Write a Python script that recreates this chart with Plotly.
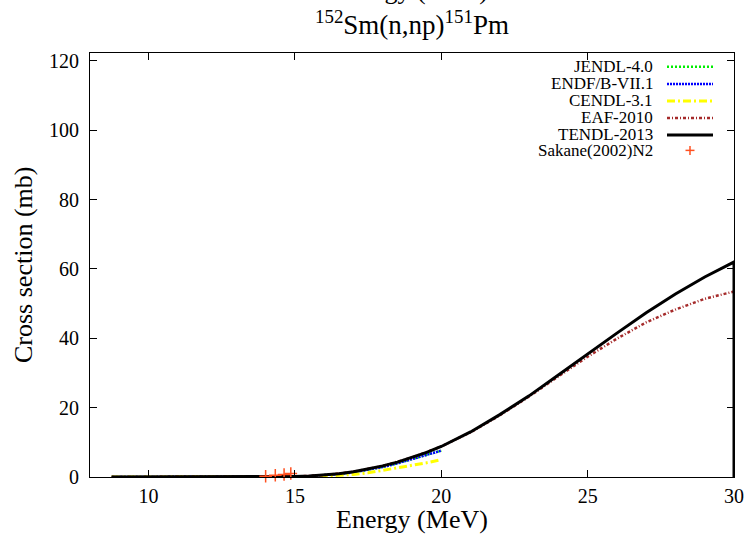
import plotly.graph_objects as go

# ---------------- data ----------------
tendl_e = [8.74, 10, 11, 12, 13, 14, 15, 15.5, 16, 16.5, 17, 17.5, 18, 18.5, 19, 19.5, 20,
           21, 22, 23, 24, 25, 26, 27, 28, 29, 30, 30]
tendl_v = [0, 0, 0, 0, 0.01, 0.04, 0.15, 0.3, 0.55, 0.95, 1.5, 2.25, 3.2, 4.3, 5.6, 7.1, 8.8,
           13.0, 18.0, 23.4, 29.4, 35.5, 41.5, 47.4, 52.8, 57.7, 62.0, 0]

eaf_e = [8.74, 10, 11, 12, 13, 14, 15, 16, 17, 18, 19, 20, 21, 22, 23, 24, 25, 26, 27, 28, 29, 30]
eaf_v = [0, 0, 0, 0, 0.01, 0.04, 0.15, 0.55, 1.5, 3.2, 5.6, 8.8, 12.9, 17.8, 23.2, 29.0,
         34.7, 39.9, 44.6, 48.3, 51.4, 53.5]

jendl_e = [8.74, 10, 11, 12, 13, 14, 15, 15.5, 16, 16.5, 17, 17.5, 18, 18.5, 19, 19.5, 20]
jendl_v = [0, 0, 0, 0, 0.01, 0.03, 0.12, 0.25, 0.48, 0.85, 1.35, 2.05, 2.9, 3.95, 5.1, 6.35, 7.6]

endf_e = [8.74, 10, 11, 12, 13, 14, 15, 15.5, 16, 16.5, 17, 17.5, 18, 18.5, 19, 19.5, 20]
endf_v = [0, 0, 0, 0, 0.01, 0.03, 0.12, 0.25, 0.48, 0.85, 1.35, 2.05, 2.9, 3.95, 5.1, 6.35, 7.6]

cendl_e = [8.74, 10, 11, 12, 13, 14, 15, 15.5, 16, 16.5, 17, 17.5, 18, 18.5, 19, 19.5, 20]
cendl_v = [0, 0, 0, 0, 0, 0.01, 0.05, 0.12, 0.25, 0.45, 0.75, 1.2, 1.9, 2.6, 3.3, 4.1, 5.0]

sakane_e = [14.0, 14.33, 14.63, 14.86]
sakane_v = [0.2, 0.5, 0.7, 1.0]

x_ticks = [10, 15, 20, 25, 30]
y_ticks = [0, 20, 40, 60, 80, 100, 120]

series_names = ["JENDL-4.0", "ENDF/B-VII.1", "CENDL-3.1", "EAF-2010", "TENDL-2013", "Sakane(2002)N2"]

# ---------------- styles ----------------
FONT = "Liberation Serif"
styles = {
    "JENDL-4.0": dict(color="#00ee00", width=2.5, dash="2px,2px"),
    "ENDF/B-VII.1": dict(color="#0000ff", width=2.5, dash="2px,1px"),
    "CENDL-3.1": dict(color="#ffff00", width=3, dash="8px,3px,2px,3px"),
    "EAF-2010": dict(color="#a52a2a", width=2.5, dash="3px,2px,1px,2px"),
    "TENDL-2013": dict(color="#000000", width=3, dash="solid"),
}
sak_color = "#ff5020"

fig = go.Figure()
data_map = {
    "JENDL-4.0": (jendl_e, jendl_v),
    "ENDF/B-VII.1": (endf_e, endf_v),
    "CENDL-3.1": (cendl_e, cendl_v),
    "EAF-2010": (eaf_e, eaf_v),
    "TENDL-2013": (tendl_e, tendl_v),
}
for name in series_names[:5]:
    ex, vy = data_map[name]
    fig.add_trace(go.Scatter(x=ex, y=vy, mode="lines", name=name, line=styles[name],
                             showlegend=False))

fig.add_trace(go.Scatter(x=sakane_e, y=sakane_v, mode="markers", name=series_names[5],
                         marker=dict(symbol="cross-thin", size=9,
                                     line=dict(color=sak_color, width=1.5)),
                         showlegend=False, cliponaxis=False))

# ---------------- layout geometry ----------------
# body margin is removed (post_script), so page pixels == figure pixels
W, H = 748, 536
PL, PR, PT, PB = 90, 734, 53, 477.5          # plot area in pixels
L, R, T, B = PL, W - PR, PT, H - PB
pw, ph = PR - PL, PB - PT


def px_x(p):
    return (p - PL) / pw


def px_y(p):
    return (PB - p) / ph


annotations = []
shapes = []

# custom legend (text right-aligned, sample on the right), gnuplot-like
row_y = [66.7, 84, 101, 118, 135, 150.5]
for i, name in enumerate(series_names):
    annotations.append(dict(x=px_x(655), y=px_y(row_y[i]), xref="paper", yref="paper",
                            text=name, showarrow=False, xanchor="right", yanchor="middle",
                            font=dict(family=FONT, size=17, color="black")))
    if name in styles:
        st = styles[name]
        shapes.append(dict(type="line", xref="paper", yref="paper",
                           x0=px_x(667), x1=px_x(713), y0=px_y(row_y[i]), y1=px_y(row_y[i]),
                           line=dict(color=st["color"], width=st["width"], dash=st["dash"])))
    else:
        cx, cy = 690, row_y[i]
        shapes.append(dict(type="line", xref="paper", yref="paper",
                           x0=px_x(cx - 4.5), x1=px_x(cx + 4.5), y0=px_y(cy), y1=px_y(cy),
                           line=dict(color=sak_color, width=1.5)))
        shapes.append(dict(type="line", xref="paper", yref="paper",
                           x0=px_x(cx), x1=px_x(cx), y0=px_y(cy - 4.5), y1=px_y(cy + 4.5),
                           line=dict(color=sak_color, width=1.5)))

# axis titles
annotations.append(dict(x=0.5, y=px_y(520), xref="paper", yref="paper", text="Energy (MeV)",
                        showarrow=False, xanchor="center", yanchor="middle",
                        font=dict(family=FONT, size=26, color="black")))
annotations.append(dict(x=px_x(23), y=0.5, xref="paper", yref="paper", text="Cross section (mb)",
                        showarrow=False, xanchor="center", yanchor="middle", textangle=-90,
                        font=dict(family=FONT, size=26, color="black")))
# cut-off duplicate label at very top (only its lower part shows)
annotations.append(dict(x=0.5, y=px_y(-10), xref="paper", yref="paper", text="Energy (MeV)",
                        showarrow=False, xanchor="center", yanchor="middle",
                        font=dict(family=FONT, size=26, color="black")))
# title
annotations.append(dict(x=0.5, y=px_y(23), xref="paper", yref="paper",
                        text="<sup>152</sup>Sm(n,np)<sup>151</sup>Pm",
                        showarrow=False, xanchor="center", yanchor="middle",
                        font=dict(family=FONT, size=27, color="black")))

axis_common = dict(showline=True, linecolor="black", linewidth=1, mirror="ticks",
                   ticks="inside", ticklen=7, tickcolor="black", tickwidth=1,
                   showgrid=False, zeroline=False,
                   tickfont=dict(family=FONT, size=20, color="black"))

fig.update_layout(
    width=W, height=H,
    margin=dict(l=L, r=R, t=T, b=B, autoexpand=False),
    paper_bgcolor="white", plot_bgcolor="white",
    xaxis=dict(range=[8, 30], tickvals=x_ticks, ticktext=[str(v) for v in x_ticks],
               ticklabelstandoff=1, **axis_common),
    yaxis=dict(range=[0, 122.3], tickvals=y_ticks, ticktext=[str(v) for v in y_ticks],
               ticklabelstandoff=6, **axis_common),
    annotations=annotations,
    shapes=shapes,
    showlegend=False,
)

fig.write_html("out.html",
               config={"displayModeBar": False},
               post_script="document.body.style.margin='0px';document.body.style.overflow='hidden';")
